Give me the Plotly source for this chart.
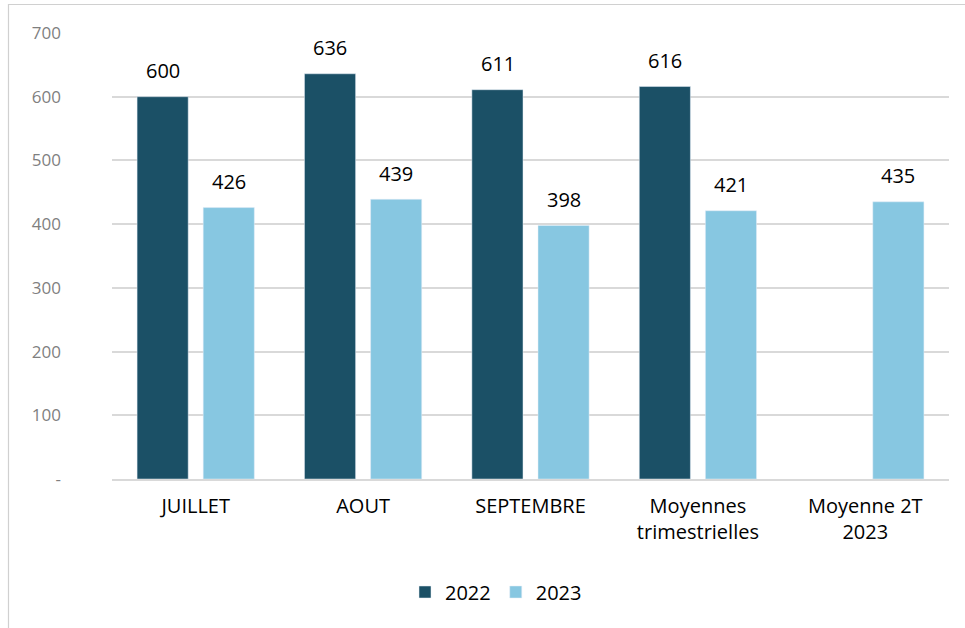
import plotly.graph_objects as go

categories = ["JUILLET", "AOUT", "SEPTEMBRE", "Moyennes<br>trimestrielles", "Moyenne 2T<br>2023"]
values_2022 = [600, 636, 611, 616, None]
values_2023 = [426, 439, 398, 421, 435]
series_names = ["2022", "2023"]
y_tickvals = [0, 100, 200, 300, 400, 500, 600, 700]
y_ticktext = ["-", "100", "200", "300", "400", "500", "600", "700"]

FONT = "Open Sans"
c2022 = "#1B5066"
c2023 = "#87C7E1"

fig = go.Figure()
for name, vals, col in [(series_names[0], values_2022, c2022), (series_names[1], values_2023, c2023)]:
    fig.add_trace(go.Bar(x=categories, y=vals, name=name, marker_color=col))

# data labels via annotations, anchored through the axes
annotations = []
for vals, dx in [(values_2022, -33), (values_2023, 33)]:
    for cat, v in zip(categories, vals):
        if v is None:
            continue
        annotations.append(dict(x=cat, y=v, xref="x", yref="y", text=str(v), showarrow=False,
                                xshift=dx, yshift=26, yanchor="middle",
                                font=dict(family=FONT, size=20, color="#000000")))

W, H = 965, 628
L, R, T, B = 112, 16, 33, 149
pw = W - L - R
ph = H - T - B

fig.update_layout(
    width=W, height=H,
    margin=dict(l=L, r=R, t=T, b=B),
    paper_bgcolor="white", plot_bgcolor="white",
    barmode="group", bargap=0.21, bargroupgap=0.227,
    font=dict(family=FONT, size=20, color="#000000"),
    showlegend=True,
    legend=dict(orientation="h", x=(405 - L) / pw, xanchor="left", y=(H - 592 - B) / ph, yanchor="middle",
                font=dict(family=FONT, size=20, color="#000000"), itemwidth=30,
                traceorder="normal"),
    xaxis=dict(showgrid=False, showline=True, linecolor="#D9D9D9", linewidth=1.5,
               tickfont=dict(family=FONT, size=20, color="#000000"), ticks="",
               ticklabelstandoff=8),
    yaxis=dict(range=[0, 700], tickvals=y_tickvals, ticktext=y_ticktext,
               showgrid=True, gridcolor="#D9D9D9", gridwidth=1.5, zeroline=False,
               showline=False, ticks="", ticklabelstandoff=50,
               tickfont=dict(family=FONT, size=17, color="#7F7F7F")),
    annotations=annotations,
    shapes=[dict(type="rect", xref="paper", yref="paper",
                 x0=(8.5 - L) / pw, x1=(W + 20 - L) / pw,
                 y0=(B - H - 20) / ph, y1=(H - 4.5 - B) / ph,
                 line=dict(color="#D0D0D0", width=1.2), fillcolor="rgba(0,0,0,0)", layer="below")],
)

fig.write_html("out.html", config={"displayModeBar": False},
               post_script="document.body.style.margin='0';document.body.style.overflow='hidden';")
